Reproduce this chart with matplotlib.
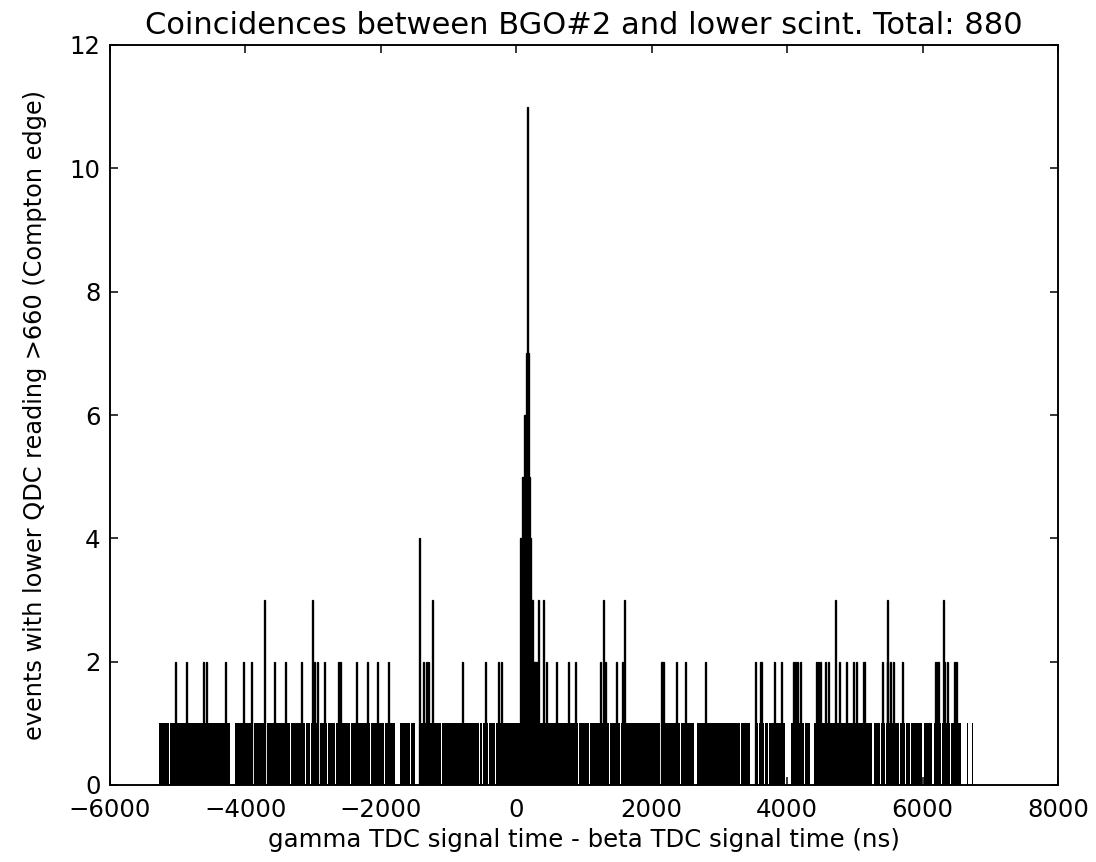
import numpy as np
import matplotlib.pyplot as plt

# histogram of gamma - beta TDC time differences (ns)
bin_width = 15  # ns

# region where (almost) every bin holds one event
baseline_start = -5283
baseline_end = 6745

# single empty bins inside the baseline region (bin centres, ns)
thin_gaps = [-5121, -4716, -3885, -3690, -3446, -3338, -3116, -3043, -2905,
             -2787, -2722, -2673, -2501, -2452, -2279, -2156, -1950, -1910,
             -1566, -1100, -542, -498, -409, -310, -196, 749, 920, 1083,
             1378, 1536, 1857, 2127, 2422, 3316, 3579, 3727, 4136, 4258,
             4737, 4958, 5041, 5327, 5376, 5450, 5549, 5623, 5661, 5746,
             6280, 6410]

# wider empty stretches (start, end) in ns
wide_gaps = [(-4234, -4150), (-1787, -1713), (-1492, -1443), (2619, 2669),
             (3446, 3530), (3653, 3678), (3973, 4062), (4342, 4391),
             (5254, 5288), (5809, 5830), (5992, 6026), (6140, 6174),
             (6573, 6650), (6665, 6730)]

# bins with 2, 3, 4 counts
spikes_2 = [-5026, -4864, -4619, -4579, -4298, -4028, -3904, -3570, -3402,
            -3176, -2984, -2939, -2831, -2625, -2600, -2353, -2196, -2043,
            -1886, -1369, -1329, -1295, -793, -448, -261, -222, 453, 591,
            772, 871, 1241, 1315, 1487, 1573, 2152, 2176, 2363, 2496, 2792,
            3530, 3614, 3811, 3914, 4096, 4121, 4155, 4195, 4431, 4461, 4490,
            4564, 4613, 4775, 4874, 4982, 5022, 5121, 5140, 5413, 5475, 5524,
            5573, 5697, 6189, 6214, 6238, 6329, 6370, 6469, 6499]
spikes_3 = [-3722, -3003, -1241, 329, 403, 1281, 1595, 4712, 5484, 6302]
spikes_4 = [-1428]

# coincidence peak near +160 ns
peak_ns = [60, 75, 90, 105, 120, 135, 150, 165, 180, 195, 210, 225, 240,
           255, 270, 285, 300]
peak_counts = [4, 4, 5, 5, 6, 6, 7, 11, 7, 5, 4, 3, 3, 2, 2, 2, 2]

# build baseline segments between the gaps
gap_w = 11
gaps = sorted([(c - gap_w / 2, c + gap_w / 2) for c in thin_gaps] + wide_gaps)
seg_left, seg_width = [], []
pos = baseline_start
for g0, g1 in gaps:
    if g0 > pos:
        seg_left.append(pos)
        seg_width.append(g0 - pos)
    pos = max(pos, g1)
seg_left.append(pos)
seg_width.append(baseline_end - pos)

plt.rcParams['font.family'] = 'DejaVu Sans'
plt.rcParams['xtick.direction'] = 'in'
plt.rcParams['ytick.direction'] = 'in'

fig = plt.figure(figsize=(8, 862 / 137), dpi=137)
fig.subplots_adjust(left=110 / 1096, right=1058 / 1096,
                    bottom=1 - 785 / 862, top=1 - 45 / 862)
ax = fig.add_subplot(111)

ax.bar(seg_left, np.ones(len(seg_left)), width=seg_width, align='edge',
       color='black', linewidth=0)
for xs, h in [(spikes_2, 2), (spikes_3, 3), (spikes_4, 4)]:
    ax.bar(xs, np.full(len(xs), h), width=bin_width, color='black',
           edgecolor='black', linewidth=0.7)
ax.bar(peak_ns, peak_counts, width=bin_width, color='black',
       edgecolor='black', linewidth=0.7)

ax.set_xlim(-6000, 8000)
ax.set_ylim(0, 12)
ax.set_xticks(np.arange(-6000, 8001, 2000))
ax.set_yticks(np.arange(0, 13, 2))
ax.tick_params(top=True, right=True, length=4, width=0.8, labelsize=12.8)
ax.tick_params(axis='x', pad=7)
ax.tick_params(axis='y', pad=5)
for s in ax.spines.values():
    s.set_linewidth(1.0)

ax.set_title("Coincidences between BGO#2 and lower scint. Total: 880",
             fontsize=16)
ax.set_xlabel("gamma TDC signal time - beta TDC signal time (ns)",
              fontsize=12.8, labelpad=3)
ax.set_ylabel("events with lower QDC reading >660 (Compton edge)",
              fontsize=12.6, labelpad=12)

fig.savefig("out.png", dpi=137, facecolor='white')
